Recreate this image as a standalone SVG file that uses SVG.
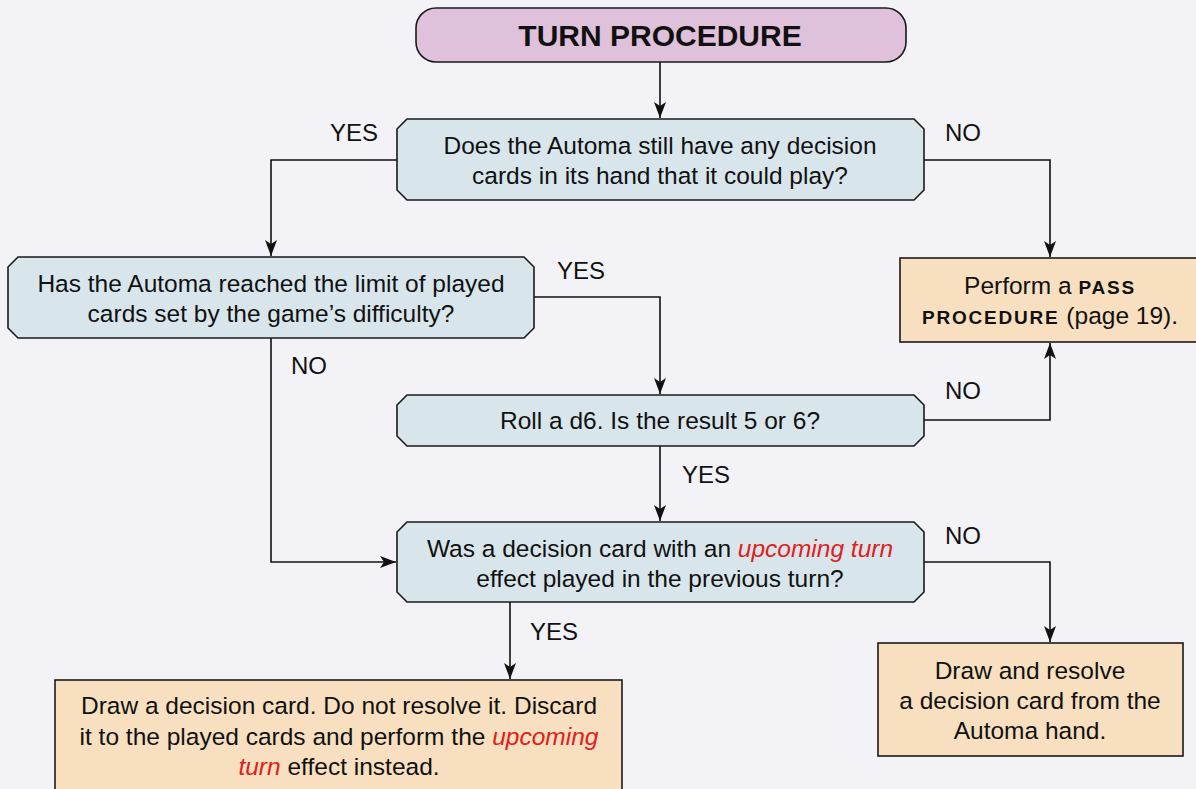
<svg xmlns="http://www.w3.org/2000/svg" width="1196" height="789" viewBox="0 0 1196 789">
  <defs>
    <marker id="arrow" viewBox="0 0 16 12" refX="16" refY="6" markerWidth="16" markerHeight="12" markerUnits="userSpaceOnUse" orient="auto">
      <path d="M0,0 L16,6 L0,12 L4,6 Z" fill="#111"/>
    </marker>
    <style>
      .txt { font-family: "Liberation Sans", Arial, sans-serif; font-size: 24.5px; fill: #111; text-anchor: middle; }
      .lbl { font-family: "Liberation Sans", Arial, sans-serif; font-size: 24px; fill: #111; }
      .em { fill: #e0201c; font-style: italic; }
      .caps { font-weight: bold; font-size: 19px; letter-spacing: 1.8px; }
      .decision { fill: #d8e6ec; stroke: #1a1a1a; stroke-width: 1.6; }
      .action { fill: #f8dfbf; stroke: #1a1a1a; stroke-width: 1.6; }
      .start { fill: #e0c1dc; stroke: #1a1a1a; stroke-width: 1.6; }
      .edge { fill: none; stroke: #111; stroke-width: 1.6; marker-end: url(#arrow); }
    </style>
  </defs>

  <rect width="1196" height="789" fill="#f3f2f6"/>

  <g id="connectors">
    <path class="edge" d="M660,62 V118"/>
    <path class="edge" d="M397,160 H271 V256"/>
    <path class="edge" d="M924,160 H1050 V257"/>
    <path class="edge" d="M534,297 H660 V394"/>
    <path class="edge" d="M271,338 V562 H396"/>
    <path class="edge" d="M924,420 H1050 V343"/>
    <path class="edge" d="M660,446 V521"/>
    <path class="edge" d="M924,562 H1050 V642"/>
    <path class="edge" d="M510,602 V679"/>
    <text class="lbl" x="330" y="141">YES</text>
    <text class="lbl" x="945" y="141">NO</text>
    <text class="lbl" x="557" y="279">YES</text>
    <text class="lbl" x="291" y="374">NO</text>
    <text class="lbl" x="945" y="399">NO</text>
    <text class="lbl" x="682" y="483">YES</text>
    <text class="lbl" x="945" y="544">NO</text>
    <text class="lbl" x="530" y="640">YES</text>
  </g>

  <g id="start">
    <rect class="start" x="416" y="8" width="490" height="54" rx="20"/>
    <text class="txt" x="660" y="46" style="font-size:30px;font-weight:bold">TURN PROCEDURE</text>
  </g>

  <g id="q-hand">
    <polygon class="decision" points="407,119 914,119 924,129 924,190 914,200 407,200 397,190 397,129"/>
    <text class="txt" x="660" y="154">Does the Automa still have any decision</text>
    <text class="txt" x="660" y="184">cards in its hand that it could play?</text>
  </g>

  <g id="q-limit">
    <polygon class="decision" points="18,257 524,257 534,267 534,328 524,338 18,338 8,328 8,267"/>
    <text class="txt" x="271" y="292">Has the Automa reached the limit of played</text>
    <text class="txt" x="271" y="322">cards set by the game’s difficulty?</text>
  </g>

  <g id="pass">
    <rect class="action" x="900" y="258" width="300" height="84"/>
    <text class="txt" x="1050" y="294">Perform a <tspan class="caps">PASS</tspan></text>
    <text class="txt" x="1050" y="324"><tspan class="caps">PROCEDURE</tspan> (page 19).</text>
  </g>

  <g id="q-roll">
    <polygon class="decision" points="407,395 914,395 924,405 924,436 914,446 407,446 397,436 397,405"/>
    <text class="txt" x="660" y="429">Roll a d6. Is the result 5 or 6?</text>
  </g>

  <g id="q-upcoming">
    <polygon class="decision" points="407,522 914,522 924,532 924,592 914,602 407,602 397,592 397,532"/>
    <text class="txt" x="660" y="557">Was a decision card with an <tspan class="em">upcoming turn</tspan></text>
    <text class="txt" x="660" y="587">effect played in the previous turn?</text>
  </g>

  <g id="discard">
    <rect class="action" x="55" y="680" width="567" height="120"/>
    <text class="txt" x="339" y="714">Draw a decision card. Do not resolve it. Discard</text>
    <text class="txt" x="339" y="745">it to the played cards and perform the <tspan class="em">upcoming</tspan></text>
    <text class="txt" x="339" y="775"><tspan class="em">turn</tspan> effect instead.</text>
  </g>

  <g id="resolve">
    <rect class="action" x="878" y="643" width="305" height="113"/>
    <text class="txt" x="1030" y="679">Draw and resolve</text>
    <text class="txt" x="1030" y="709">a decision card from the</text>
    <text class="txt" x="1030" y="739">Automa hand.</text>
  </g>
</svg>
